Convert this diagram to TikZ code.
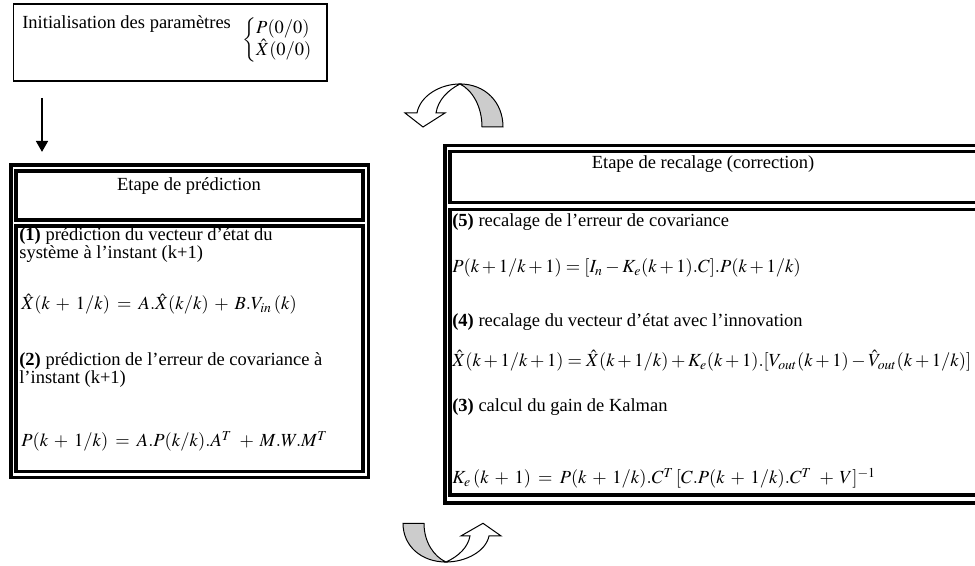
\documentclass[tikz,border=0pt]{standalone}
\usepackage{mathptmx}
\usepackage{fontspec}
\setmainfont{Liberation Serif}
\usetikzlibrary{arrows.meta}

\newcommand\widemath{\medmuskip=5.5mu\relax\thickmuskip=7mu\relax}

\tikzset{
  twist/.pic={
    % back of the ribbon
    \draw[back] (0,0) .. controls (25,0) and (43,18) .. (43,43) -- (22,43)
      .. controls (22,22) and (12,6) .. (0,0) -- cycle;
    % front of the ribbon with its head
    \draw[ribbon] (0,0) .. controls (-20,0) and (-40,12) .. (-43,29) -- (-55,29)
      -- (-37,43) -- (-15,29) -- (-24,29) .. controls (-22,16) and (-12,6) .. (0,0) -- cycle;
  }
}

\begin{document}
\begin{tikzpicture}[x=0.6pt, y=-0.6pt,
txt/.style={anchor=base west, inner sep=0pt, font=\fontsize{11.1}{13}\selectfont},
title/.style={anchor=base, inner sep=0pt, font=\fontsize{11.1}{13}\selectfont},
frame/.style={draw, line width=1.9pt},
cell/.style={draw, line width=1.9pt},
back/.style={line width=0.6pt, fill=black!20},
ribbon/.style={line width=0.6pt, fill=white}
]
\useasboundingbox (0,0) rectangle (975,566);
\clip (0,0) rectangle (975,566);

% initialisation
\draw[line width=1.1pt] (13.5,4) rectangle (327,81);
\node[txt] (init) at (22,29) {Initialisation des paramètres};
\node[txt, anchor=west] (initval) at (242,40) {$\left\{\begin{array}{@{}l@{}}P(0/0)\\ \hat{X}(0/0)\end{array}\right.$};

\coordinate (a1) at (42,98);
\coordinate (a2) at (42,152);
\draw[line width=1.5pt, -{Triangle[length=6.6pt, width=7pt]}] (a1) -- (a2);

% prediction
\draw[frame] (11,165) rectangle (368.5,477.5);
\draw[cell] (16,171) rectangle (363,220);
\draw[cell] (16,226) rectangle (363,471.5);
\node[title] (predtitle) at (189,191) {Etape de prédiction};
\node[txt] (p1a) at (19,241) {\textbf{(1)} prédiction du vecteur d’état du};
\node[txt] (p1b) at (19,258.5) {système à l’instant (k+1)};
\node[txt] (eqx) at (21,310) {$\widemath\hat{X}(k+1/k) = A.\hat{X}(k/k) + B.V_{in}\,(k)$};
\node[txt] (p2a) at (19,366) {\textbf{(2)} prédiction de l’erreur de covariance à};
\node[txt] (p2b) at (19,383.5) {l’instant (k+1)};
\node[txt] (eqp) at (21,447) {$\widemath P(k+1/k) = A.P(k/k).A^{T}\, + M.W.M^{T}$};

% correction
\draw[frame] (445,145.5) rectangle (995,503);
\draw[cell] (450,151.5) rectangle (990,202.5);
\draw[cell] (450,209.5) rectangle (990,495);
\node[title] (rectitle) at (703,169) {Etape de recalage (correction)};
\node[txt] (r5) at (452,226.5) {\textbf{(5)} recalage de l’erreur de covariance};
\node[txt] (eqpc) at (452,273) {$P(k+1/k+1) = [I_{n} - K_{e}(k+1).C].P(k+1/k)$};
\node[txt] (r4) at (452,326.5) {\textbf{(4)} recalage du vecteur d’état avec l’innovation};
\node[txt] (eqxc) at (452,366.5) {$\hat{X}(k+1/k+1) = \hat{X}(k+1/k) + K_{e}(k+1).[V_{out}(k+1) - \hat{V}_{out}(k+1/k)]$};
\node[txt] (r3) at (452,412) {\textbf{(3)} calcul du gain de Kalman};
\node[txt] (eqk) at (452,484) {$\widemath K_{e}\,(k+1) = P(k+1/k).C^{T}\,[C.P(k+1/k).C^{T}\, + V]^{-1}$};

% loop arrows
\pic at (460,84) {twist};
\pic[rotate=180, yscale=0.9] at (446,562) {twist};
\end{tikzpicture}
\end{document}
